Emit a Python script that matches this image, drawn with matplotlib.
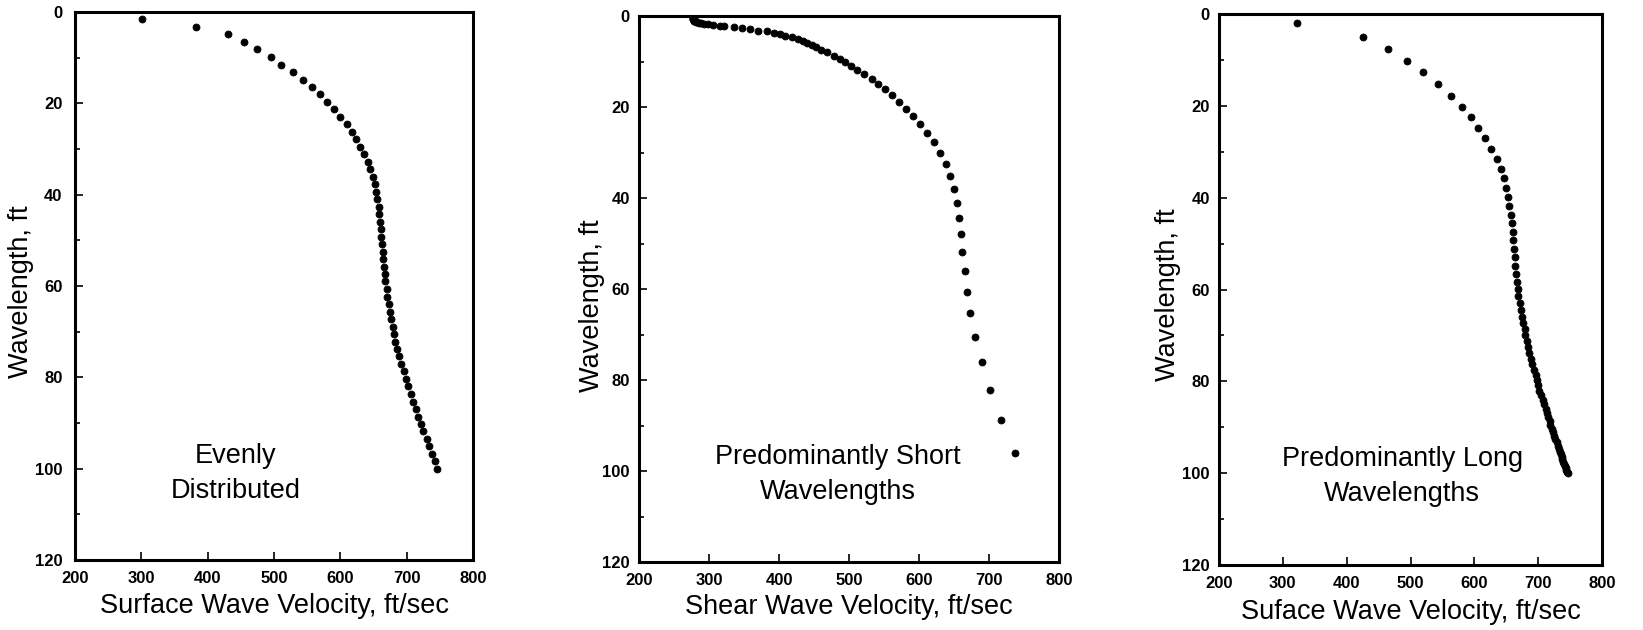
import matplotlib
matplotlib.use("Agg")
import matplotlib.pyplot as plt
from matplotlib.ticker import MultipleLocator

plt.rcParams['font.family'] = ['Liberation Sans', 'DejaVu Sans']

# panel 1: evenly distributed wavelengths
even_wavelength = [1.6, 3.3, 4.9, 6.6, 8.2, 9.8, 11.5, 13.1, 14.8, 16.4,
                   18.0, 19.7, 21.3, 23.0, 24.6, 26.2, 27.9, 29.5, 31.2, 32.8,
                   34.4, 36.1, 37.7, 39.4, 41.0, 42.6, 44.3, 45.9, 47.6, 49.2,
                   50.8, 52.5, 54.1, 55.8, 57.4, 59.0, 60.7, 62.3, 64.0, 65.6,
                   67.2, 68.9, 70.5, 72.2, 73.8, 75.4, 77.1, 78.7, 80.4, 82.0,
                   83.6, 85.3, 86.9, 88.6, 90.2, 91.8, 93.5, 95.1, 96.8, 98.4, 100.0]
even_velocity = [301, 382, 430, 455, 475, 495, 511, 528, 543, 557,
                 569, 580, 590, 599, 610, 617, 624, 630, 636, 641,
                 645, 649, 652, 654, 656, 658, 659, 660, 661, 662,
                 663, 664, 665, 666, 667, 668, 670, 671, 673, 675,
                 677, 679, 681, 683, 686, 689, 692, 696, 699, 702,
                 706, 710, 714, 717, 721, 725, 730, 734, 738, 742, 746]

# panel 2: predominantly short wavelengths
short_wavelength = [0.35, 0.45, 0.55, 0.65, 0.75, 0.85, 0.92, 0.99, 1.07, 1.15,
                    1.25, 1.35, 1.5, 1.6, 1.7, 1.85, 2.0, 2.2, 2.3, 2.5,
                    2.7, 2.9, 3.2, 3.4, 3.7, 4.0, 4.3, 4.7, 5.1, 5.5,
                    5.9, 6.4, 6.9, 7.4, 8.0, 8.7, 9.4, 10.1, 11.0, 11.8,
                    12.7, 13.8, 14.9, 16.0, 17.4, 18.8, 20.4, 22.0, 23.8, 25.8,
                    27.8, 30.2, 32.6, 35.2, 38.0, 41.0, 44.5, 48.0, 51.8, 56.0,
                    60.6, 65.3, 70.5, 76.1, 82.2, 88.9, 96.1]
short_velocity = [277, 277, 277, 277, 278, 278, 278, 279, 279, 280,
                  281, 283, 286, 289, 293, 298, 305, 315, 322, 335,
                  347, 358, 370, 383, 393, 401, 409, 419, 427, 434,
                  440, 447, 453, 460, 468, 478, 487, 494, 503, 512,
                  522, 533, 542, 552, 562, 572, 582, 592, 601, 611,
                  621, 630, 638, 644, 650, 654, 657, 660, 662, 665,
                  668, 673, 680, 690, 702, 717, 737]

# panel 3: predominantly long wavelengths
long_wavelength = [2.0, 5.1, 7.6, 10.2, 12.7, 15.2, 17.8, 20.2, 22.5, 24.8,
                   27.1, 29.3, 31.5, 33.7, 35.8, 37.8, 39.9, 41.8, 43.8, 45.6,
                   47.5, 49.2, 51.2, 53.0, 54.8, 56.6, 58.3, 59.9, 61.4, 63.0,
                   64.5, 65.9, 67.3, 68.7, 70.0, 71.3, 72.6, 73.9, 75.1, 76.3,
                   77.5, 78.7, 79.8, 80.9, 82.0, 83.0, 84.0, 85.0, 86.0, 86.9,
                   87.8, 88.7, 89.5, 90.3, 91.1, 91.9, 92.6, 93.3, 94.0, 94.7,
                   95.3, 95.9, 96.5, 97.0, 97.5, 98.0, 98.5, 98.9, 99.3, 99.7, 100.0]
long_velocity = [322, 426, 465, 495, 520, 543, 563, 580, 594, 606,
                 617, 626, 635, 641, 646, 649, 652, 655, 658, 659,
                 660, 661, 662, 663, 664, 665, 667, 668, 669, 671,
                 673, 675, 677, 679, 680, 682, 684, 686, 688, 690,
                 693, 696, 698, 700, 702, 705, 707, 709, 712, 714,
                 716, 718, 719, 721, 723, 725, 727, 729, 731, 732,
                 734, 735, 737, 738, 739, 741, 742, 743, 744, 745, 746]

x_labels = ["Surface Wave Velocity, ft/sec",
            "Shear Wave Velocity, ft/sec",
            "Suface Wave Velocity, ft/sec"]
notes = ["Evenly\nDistributed",
         "Predominantly Short\nWavelengths",
         "Predominantly Long\nWavelengths"]
note_pos = [(442, 101), (484, 100.7), (487, 100.8)]

fig = plt.figure(figsize=(16.43, 6.3), dpi=100)
boxes = [(75, 12, 473, 560), (639, 16, 1059, 562), (1219, 14, 1602, 565)]
ylab_x = [-54 / 398, -47 / 420, -51 / 383]
ylab_y = [0.49, 0.47, 0.49]
xlab_y = [-0.084, -0.082, -0.085]
ypads = [9, 6.5, 6.5]

series = [(even_velocity, even_wavelength),
          (short_velocity, short_wavelength),
          (long_velocity, long_wavelength)]

for i, (l, t, r, b) in enumerate(boxes):
    ax = fig.add_axes([l / 1643, (630 - b) / 630, (r - l) / 1643, (b - t) / 630])
    vx, wy = series[i]
    ax.plot(vx, wy, 'o', color='black', ms=5.0, mec='black', mew=0.6)

    ax.set_xlim(200, 800)
    ax.set_ylim(120, 0)
    ax.xaxis.set_major_locator(MultipleLocator(100))
    ax.yaxis.set_major_locator(MultipleLocator(20))
    ax.yaxis.set_minor_locator(MultipleLocator(10))

    for s in ax.spines.values():
        s.set_linewidth(2.2)
    ax.tick_params(which='both', direction='in', top=False, right=False, width=1.2)
    ax.tick_params(which='major', length=6)
    ax.tick_params(which='minor', length=3.5)
    ax.tick_params(axis='y', pad=ypads[i])
    ax.tick_params(axis='x', pad=8)
    for lab in ax.get_xticklabels() + ax.get_yticklabels():
        lab.set_fontsize(12)
        lab.set_fontweight('bold')

    ax.set_xlabel(x_labels[i], fontsize=19.5, va='center')
    ax.xaxis.set_label_coords(0.5, xlab_y[i])
    ax.set_ylabel("Wavelength, ft", fontsize=19.5, va='center')
    ax.yaxis.set_label_coords(ylab_x[i], ylab_y[i])

    ax.text(note_pos[i][0], note_pos[i][1], notes[i], fontsize=19.5,
            ha='center', va='center', linespacing=1.45)

fig.savefig("out.png", dpi=100)
